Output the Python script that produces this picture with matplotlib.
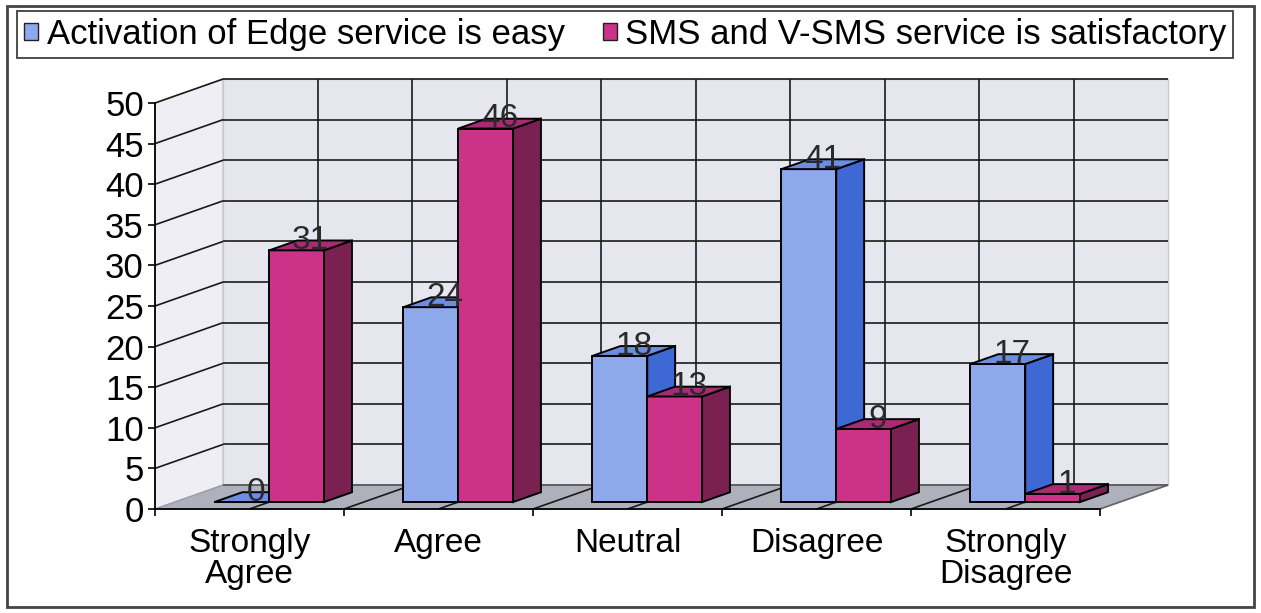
import matplotlib
matplotlib.use('Agg')
import matplotlib.pyplot as plt
from matplotlib.patches import Polygon, Rectangle, Patch

plt.rcParams['font.family'] = ['Liberation Sans', 'DejaVu Sans']

categories = ['Strongly\nAgree', 'Agree', 'Neutral', 'Disagree', 'Strongly\nDisagree']
series_names = ['Activation of Edge service is easy', 'SMS and V-SMS service is satisfactory']
edge_easy = [0, 24, 18, 41, 17]
sms_ok = [31, 46, 13, 9, 1]
yticks = list(range(0, 55, 5))

# face colours: front, side, top
blue = ['#8DA9EC', '#3E68D4', '#6D8EE0']
pink = ['#CC3388', '#7B2152', '#A92B73']

W, H = 1261, 613
fig = plt.figure(figsize=(W / 100, H / 100), dpi=100)
ax = fig.add_axes([155 / W, (H - 509) / H, 945 / W, 406 / H])
ax.set_xlim(0, 5)
ax.set_ylim(0, 50)

# depth of the 3d box in data units, bars sit between f0 and f1 of it
dx, dy = 0.36, 2.95
f0, f1 = 0.29, 0.70
bw = 0.29


def face(pts, color, z, ec='black', lw=1.4):
    ax.add_patch(Polygon(pts, closed=True, facecolor=color, edgecolor=ec,
                         linewidth=lw, zorder=z, clip_on=False))


def line(xs, ys, color='#1a1a1a', lw=1.2, z=0.7):
    ax.plot(xs, ys, color=color, lw=lw, zorder=z, clip_on=False,
            solid_capstyle='butt')


top = yticks[-1]
# walls and floor
face([(0, 0), (0, top), (dx, top + dy), (dx, dy)], '#EEEEF4', 0.3, ec='#c8c8cc', lw=1)
face([(dx, dy), (5 + dx, dy), (5 + dx, top + dy), (dx, top + dy)], '#E6E6EE', 0.3, ec='#c8c8cc', lw=1)
face([(0, 0), (5, 0), (5 + dx, dy), (dx, dy)], '#AEB1BC', 0.4, ec='#9a9ca5', lw=1)

# gridlines
for v in yticks[1:]:
    line([dx, 5 + dx], [v + dy, v + dy])
    line([0, dx], [v, v + dy])
line([dx, 5 + dx], [dy, dy], color='#555555')
for k in range(1, 10):
    xk = k * 0.5
    line([xk + dx, xk + dx], [dy, top + dy])
    line([xk, xk + dx], [0, dy], z=0.5)
line([5, 5 + dx], [0, dy], color='#666666', z=0.5)

# bars
ox, oy = f0 * dx, f0 * dy
ddx, ddy = (f1 - f0) * dx, (f1 - f0) * dy
for i in range(len(categories)):
    for s, (vals, cols) in enumerate([(edge_easy, blue), (sms_ok, pink)]):
        v = vals[i]
        x0 = i + 0.5 - bw + s * bw + ox
        x1 = x0 + bw
        z = 2 + i * 10 + s * 3
        face([(x0, oy), (x1, oy), (x1, v + oy), (x0, v + oy)], cols[0], z)
        face([(x1, oy), (x1 + ddx, oy + ddy), (x1 + ddx, v + oy + ddy), (x1, v + oy)], cols[1], z + 1)
        face([(x0, v + oy), (x1, v + oy), (x1 + ddx, v + oy + ddy), (x0 + ddx, v + oy + ddy)], cols[2], z + 2)
        ax.text((x0 + x1) / 2 + ddx / 2, v + oy + ddy / 2 + 0.6, str(v),
                ha='center', va='center', fontsize=24, color='#2a2a2a', zorder=100)

# axes
for side in ['top', 'right']:
    ax.spines[side].set_visible(False)
ax.spines['left'].set_linewidth(1.3)
ax.spines['bottom'].set_linewidth(1.3)
ax.spines['left'].set_zorder(1)
ax.spines['bottom'].set_zorder(1)
ax.set_facecolor('none')
ax.set_yticks(yticks)
ax.tick_params(axis='y', length=5, width=1.2, labelsize=25, pad=3)
ax.set_xticks([i + 0.5 for i in range(len(categories))], categories)
ax.set_xticks(range(len(categories) + 1), minor=True)
ax.tick_params(axis='x', which='major', length=0, labelsize=24, pad=14)
ax.tick_params(axis='x', which='minor', length=5, width=1.2)
for lbl in ax.get_xticklabels():
    lbl.set_linespacing(1.0)

handles = [Patch(facecolor=blue[0], edgecolor='#222222'),
           Patch(facecolor=pink[0], edgecolor='#222222')]
leg = fig.legend(handles, series_names, loc='upper left', ncol=2,
                 bbox_to_anchor=(17 / W, 1 - 11 / H),
                 fontsize=25, frameon=True, fancybox=False, edgecolor='#111111',
                 borderaxespad=0, borderpad=0.2, handlelength=0.4,
                 handleheight=0.4, handletextpad=0.25, columnspacing=1.1)
leg.get_frame().set_linewidth(1.3)

fig.add_artist(Rectangle((7 / W, 6 / H), 1247 / W, 601 / H, transform=fig.transFigure,
                         fill=False, edgecolor='#444444', linewidth=2))

fig.savefig('out.png', dpi=100)
